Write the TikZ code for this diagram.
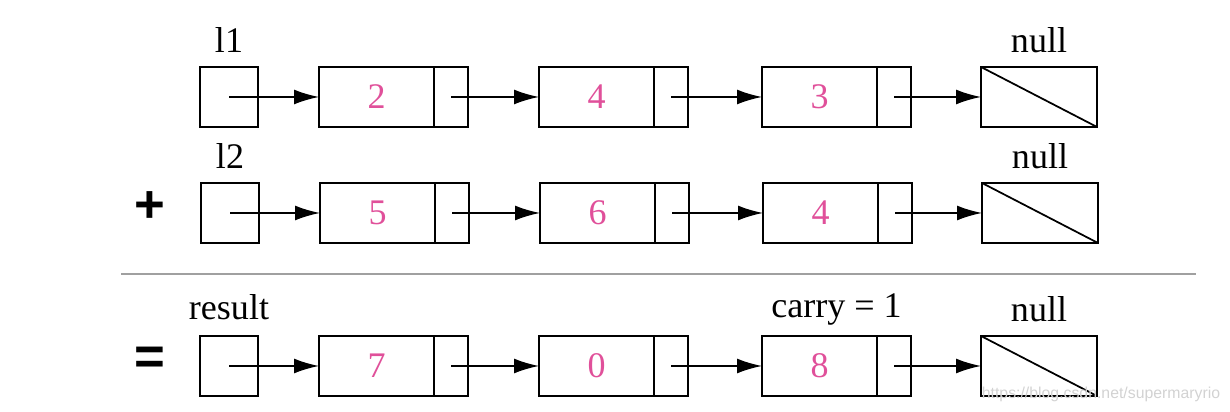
\documentclass[tikz,border=0pt]{standalone}
\usepackage{fontspec}
\setmainfont{Liberation Serif}
\newfontfamily\signfont{Liberation Sans}
\usepackage{tikz}
\usetikzlibrary{positioning, arrows.meta, calc}
\definecolor{numPink}{HTML}{E0509A}
\definecolor{sepGray}{HTML}{A0A0A0}
\tikzset{
  headbox/.style={draw, line width=1.2pt, minimum width=1.16cm, minimum height=1.2cm,
    inner sep=0pt, outer sep=0pt},
  valbox/.style={headbox, minimum width=2.3cm, font=\fontsize{20.5}{24}\selectfont, text=numPink},
  ptrbox/.style={headbox, minimum width=0.68cm},
  nullbox/.style={headbox, minimum width=2.32cm},
  lbl/.style={font=\fontsize{20.5}{24}\selectfont, inner sep=0pt, text depth=0pt},
  sign/.style={font=\signfont\bfseries\fontsize{30}{34}\selectfont, inner sep=0pt},
  link/.style={line width=1pt, -{Latex[length=0.5cm, width=0.3cm]}},
}

\begin{document}
\begin{tikzpicture}
  \useasboundingbox (0,0) rectangle (24.6,8.24);
  % l1
  \node[headbox] (h1) at (4.58,6.30) {};
  \node[valbox, right=1.22cm of h1] (v11) {2};
  \node[ptrbox, right=0pt of v11] (p11) {};
  \node[valbox, right=1.42cm of p11] (v12) {4};
  \node[ptrbox, right=0pt of v12] (p12) {};
  \node[valbox, right=1.48cm of p12] (v13) {3};
  \node[ptrbox, right=0pt of v13] (p13) {};
  \node[nullbox, right=1.40cm of p13] (n1) {};
  \draw[line width=1pt] (n1.north west) -- (n1.south east);
  \node[lbl, above=0.28cm of h1] (l1name) {l1};
  \node[lbl, above=0.28cm of n1] (n1name) {null};
  \draw[link] (h1.center) -- (v11.west);
  \draw[link] (p11.center) -- (v12.west);
  \draw[link] (p12.center) -- (v13.west);
  \draw[link] (p13.center) -- (n1.west);
  % l2
  \node[sign] (plus) at (2.99,4.10) {+};
  \node[headbox] (h2) at (4.60,3.98) {};
  \node[valbox, right=1.22cm of h2] (v21) {5};
  \node[ptrbox, right=0pt of v21] (p21) {};
  \node[valbox, right=1.42cm of p21] (v22) {6};
  \node[ptrbox, right=0pt of v22] (p22) {};
  \node[valbox, right=1.48cm of p22] (v23) {4};
  \node[ptrbox, right=0pt of v23] (p23) {};
  \node[nullbox, right=1.40cm of p23] (n2) {};
  \draw[line width=1pt] (n2.north west) -- (n2.south east);
  \node[lbl, above=0.28cm of h2] (l2name) {l2};
  \node[lbl, above=0.28cm of n2] (n2name) {null};
  \draw[link] (h2.center) -- (v21.west);
  \draw[link] (p21.center) -- (v22.west);
  \draw[link] (p22.center) -- (v23.west);
  \draw[link] (p23.center) -- (n2.west);
  % separator
  \coordinate (sepL) at (2.42,2.76);
  \coordinate (sepR) at (23.92,2.76);
  \draw[sepGray, line width=0.6pt] (sepL) -- (sepR);
  % result
  \node[sign] (equals) at (2.99,1.03) {=};
  \node[headbox] (h3) at (4.58,0.92) {};
  \node[valbox, right=1.22cm of h3] (v31) {7};
  \node[ptrbox, right=0pt of v31] (p31) {};
  \node[valbox, right=1.42cm of p31] (v32) {0};
  \node[ptrbox, right=0pt of v32] (p32) {};
  \node[valbox, right=1.48cm of p32] (v33) {8};
  \node[ptrbox, right=0pt of v33] (p33) {};
  \node[nullbox, right=1.40cm of p33] (n3) {};
  \draw[line width=1pt] (n3.north west) -- (n3.south east);
  \node[lbl, above=0.32cm of h3] (resname) {result};
  \node[lbl, above=0.28cm of n3] (n3name) {null};
  \node[lbl, anchor=south] (carry) at ($(v33.north west)!0.5!(p33.north east)+(0,0.36)$) {carry = 1};
  \draw[link] (h3.center) -- (v31.west);
  \draw[link] (p31.center) -- (v32.west);
  \draw[link] (p32.center) -- (v33.west);
  \draw[link] (p33.center) -- (n3.west);
  \node[font=\signfont\fontsize{9}{10}\selectfont, text=gray!35] (mark) at (22.02,0.36)
    {https://blog.csdn.net/supermaryrio};
\end{tikzpicture}
\end{document}
